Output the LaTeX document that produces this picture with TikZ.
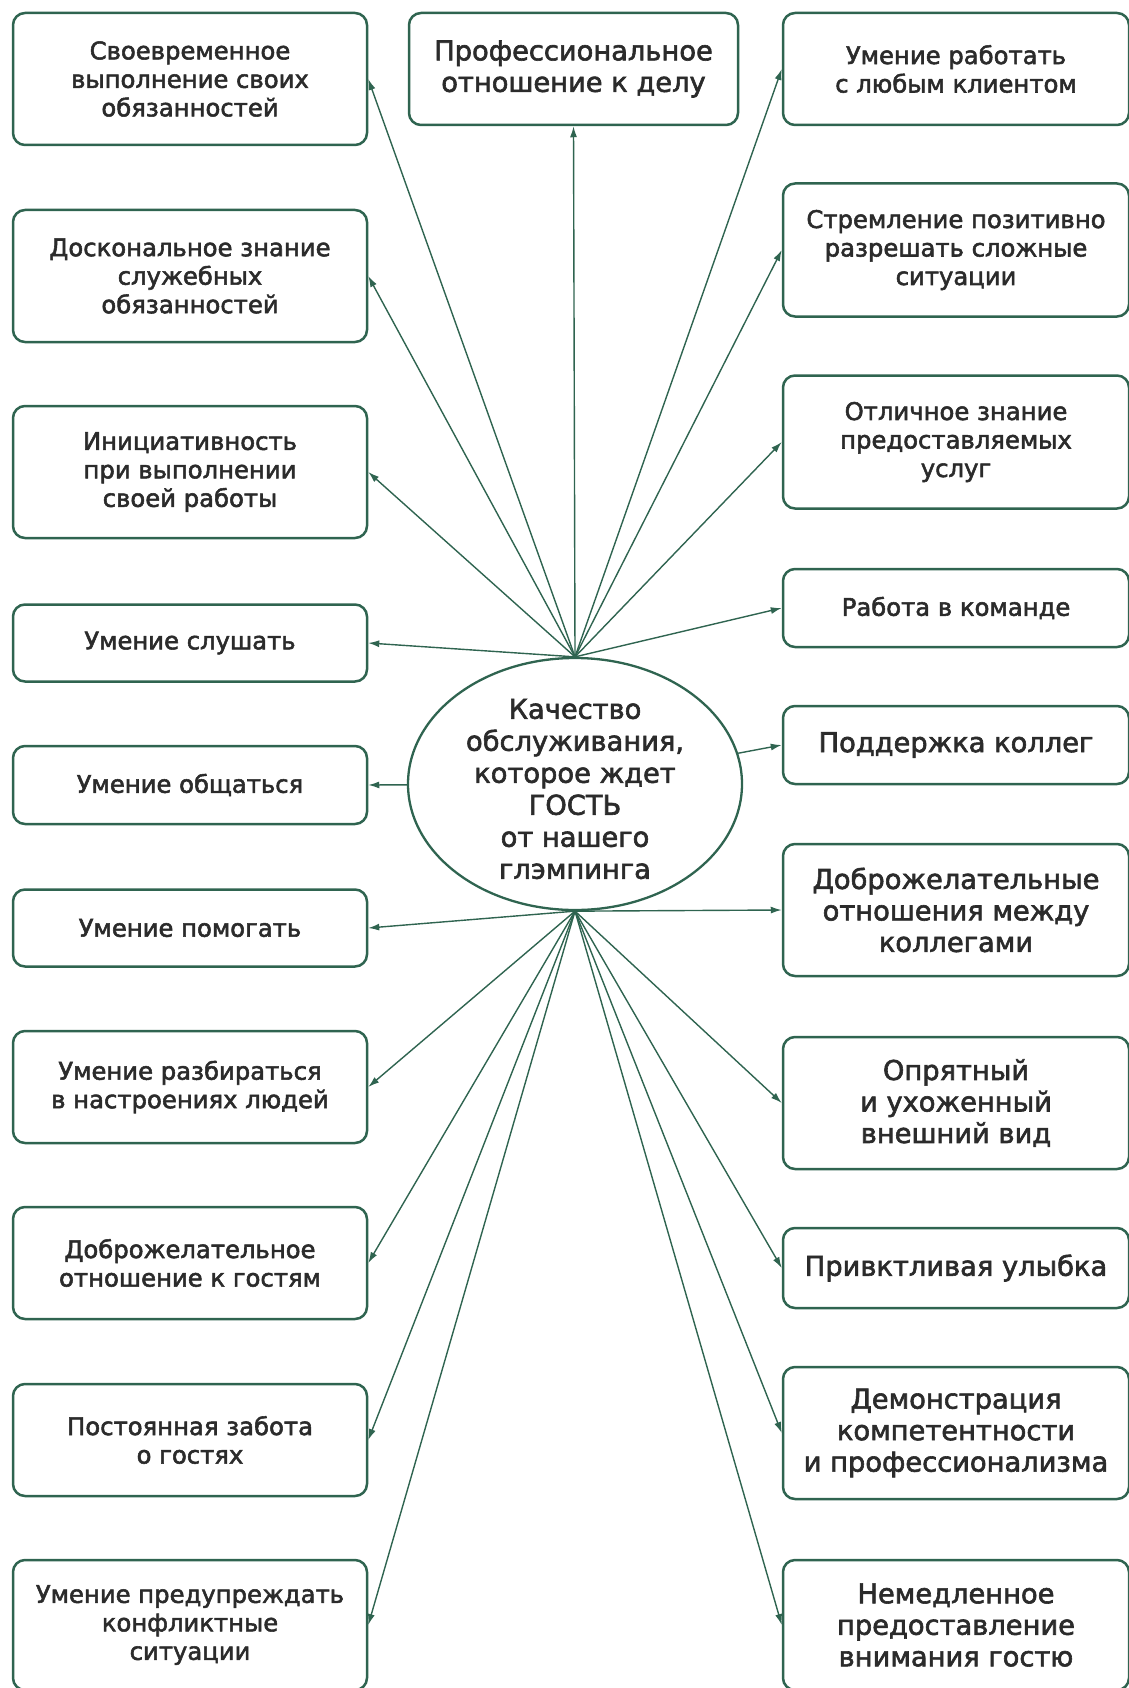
\documentclass[tikz,border=0pt]{standalone}
\usepackage{fontspec}
\newfontfamily\lbl{DejaVu Sans}[FakeBold=2.2]
\usetikzlibrary{arrows.meta,shapes.geometric}
\definecolor{grn}{HTML}{2F6450}
\definecolor{txt}{HTML}{2B2B2B}
\tikzset{
  box/.style={draw=grn, line width=2.5pt, rounded corners=12pt, align=center, text=txt, inner sep=0pt},
  sbox/.style={box, font=\lbl\fontsize{24.3}{28.5}\selectfont},
  lbox/.style={box, font=\lbl\fontsize{27.3}{31.5}\selectfont},
  lw/.style={minimum width=354pt},
  rw/.style={minimum width=346pt},
  conn/.style={draw=grn, line width=1.4pt, -{Latex[length=11pt,width=7pt]}},
}
\begin{document}
\begin{tikzpicture}[x=1pt,y=-1pt]
\useasboundingbox (0,0) rectangle (1128,1688);
% left column
\node[sbox, lw, minimum height=132pt] (l1) at (190,79) {Своевременное\\выполнение своих\\обязанностей};
\node[sbox, lw, minimum height=132pt] (l2) at (190,276) {Доскональное знание\\служебных\\обязанностей};
\node[sbox, lw, minimum height=132pt] (l3) at (190,472) {Инициативность\\при выполнении\\своей работы};
\node[sbox, lw, minimum height=77pt] (l4) at (190,643) {Умение слушать};
\node[sbox, lw, minimum height=78pt] (l5) at (190,785) {Умение общаться};
\node[sbox, lw, minimum height=77pt] (l6) at (190,928) {Умение помогать};
\node[sbox, lw, minimum height=112pt] (l7) at (190,1087) {Умение разбираться\\в настроениях людей};
\node[sbox, lw, minimum height=112pt] (l8) at (190,1263) {Доброжелательное\\отношение к гостям};
\node[sbox, lw, minimum height=112pt] (l9) at (190,1440) {Постоянная забота\\о гостях};
\node[sbox, lw, minimum height=130pt] (l10) at (190,1625) {Умение предупреждать\\конфликтные\\ситуации};
% top middle
\node[lbox, minimum width=329pt, minimum height=112pt] (top) at (573.5,69) {Профессиональное\\отношение к делу};
% right column
\node[sbox, rw, minimum height=112pt] (r1) at (956,69) {Умение работать\\с любым клиентом};
\node[sbox, rw, minimum height=133pt] (r2) at (956,250) {Стремление позитивно\\разрешать сложные\\ситуации};
\node[sbox, rw, minimum height=133pt] (r3) at (956,442) {Отличное знание\\предоставляемых\\услуг};
\node[sbox, rw, minimum height=78pt] (r4) at (956,608) {Работа в команде};
\node[lbox, rw, minimum height=78pt] (r5) at (956,745) {Поддержка коллег};
\node[lbox, rw, minimum height=132pt] (r6) at (956,910) {Доброжелательные\\отношения между\\коллегами};
\node[lbox, rw, minimum height=132pt] (r7) at (956,1103) {Опрятный\\и ухоженный\\внешний вид};
\node[lbox, rw, minimum height=80pt] (r8) at (956,1268) {Привктливая улыбка};
\node[lbox, rw, minimum height=132pt] (r9) at (956,1433) {Демонстрация\\компетентности\\и профессионализма};
\node[lbox, rw, minimum height=130pt] (r10) at (956,1625) {Немедленное\\предоставление\\внимания гостю};
% centre
\node[ellipse, draw=grn, line width=2.3pt, minimum width=334pt, minimum height=252pt, inner sep=0pt] (c) at (575,784) {};
\node[align=center, text=txt, inner sep=0pt, font=\lbl\fontsize{27.3}{32}\selectfont] (ct) at (575,789) {Качество\\обслуживания,\\которое ждет\\ГОСТЬ\\от нашего\\глэмпинга};
% connectors
\foreach \n in {l1,l2,l3,l4} \draw[conn] (c.north) -- (\n.east);
\draw[conn] (c.north) -- (top.south);
\foreach \n in {r1,r2,r3,r4} \draw[conn] (c.north) -- (\n.west);
\draw[conn] (c) -- (l5.east);
\draw[conn] (c) -- (r5.west);
\draw[conn] (c.south) -- (r6.west);
\foreach \n in {l6,l7,l8,l9,l10} \draw[conn] (c.south) -- (\n.east);
\foreach \n in {r7,r8,r9,r10} \draw[conn] (c.south) -- (\n.west);
\end{tikzpicture}
\end{document}
